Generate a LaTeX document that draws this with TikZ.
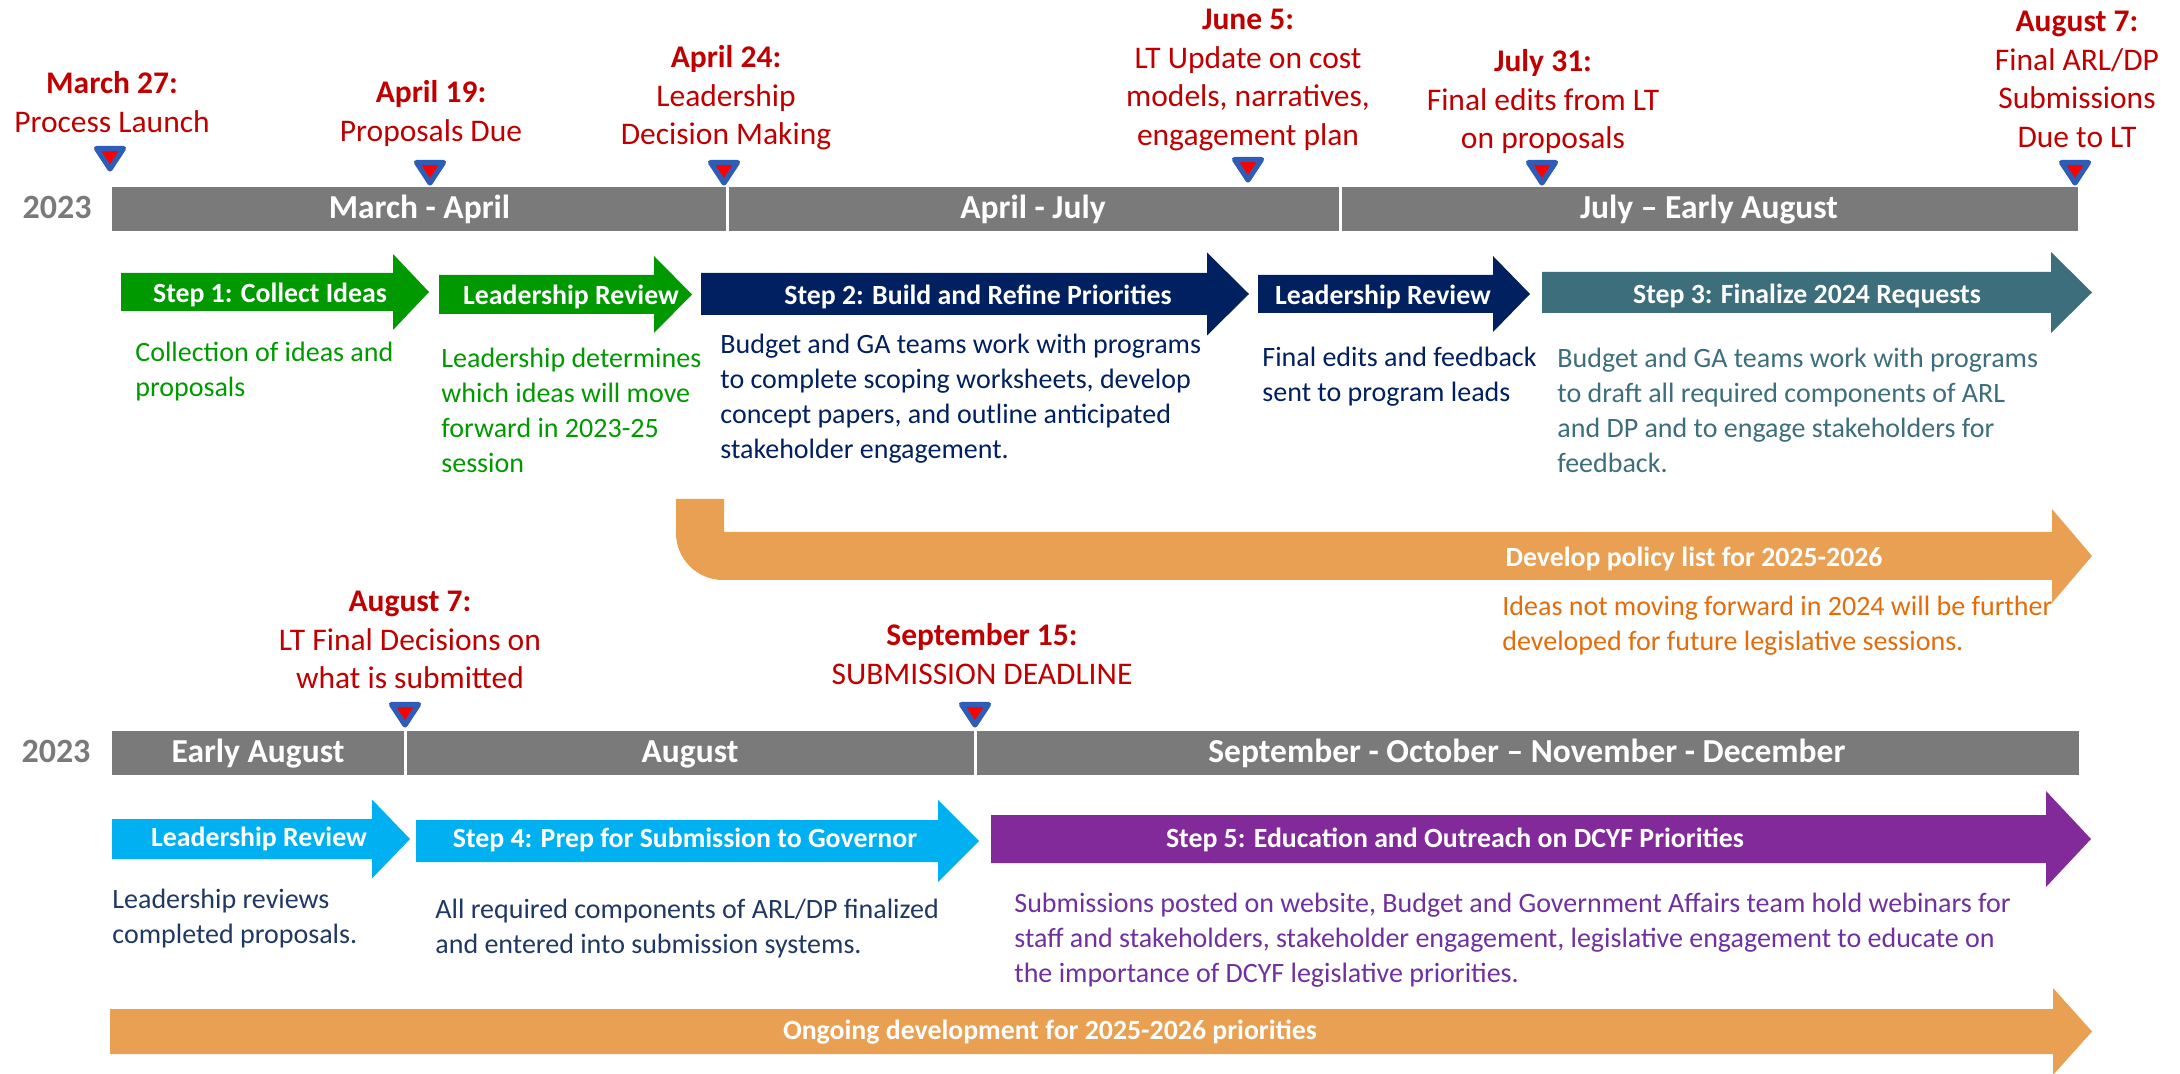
\documentclass[tikz,border=0pt]{standalone}
\usepackage{fontspec}
\setmainfont{Carlito}
\definecolor{cRed}{HTML}{C00000}
\definecolor{cGray}{HTML}{7A7A7A}
\definecolor{cBlue}{HTML}{2E5DB8}
\definecolor{cGreen}{HTML}{009900}
\definecolor{cNavy}{HTML}{002060}
\definecolor{cNavyT}{HTML}{1F3864}
\definecolor{cTeal}{HTML}{3C6E7B}
\definecolor{cOrange}{HTML}{E9A053}
\definecolor{cOrangeT}{HTML}{E46C0A}
\definecolor{cCyan}{HTML}{00B0F0}
\definecolor{cPurple}{HTML}{832A9B}
\definecolor{cPurpleT}{HTML}{7030A0}
\newcommand\zs{\rule[-0.28em]{0pt}{1.12em}}
% block arrow: colour, body start x, head start x, tip x, centre y, body half height, head half height
\newcommand\blockarrow[7]{\fill[#1] (#2,#5-#6) -- (#3,#5-#6) -- (#3,#5-#7) -- (#4,#5) -- (#3,#5+#7) -- (#3,#5+#6) -- (#2,#5+#6) -- cycle;}
% timeline marker: centre x, tip y
\newcommand\tmarker[2]{\filldraw[tmark] (#1-13.5,#2-24.5) -- (#1+13.5,#2-24.5) -- (#1,#2-4) -- cycle;}
\begin{document}
\begin{tikzpicture}[x=0.5pt,y=-0.5pt,
  tmark/.style={draw=cBlue, fill=red, line width=2.6pt, line join=round},
  datelbl/.style={align=center, inner sep=0, text=cRed, font=\fontsize{15.75}{19.25}\selectfont},
  barlbl/.style={inner sep=0, text=white, font=\bfseries\fontsize{16.75}{20}\selectfont},
  yearlbl/.style={inner sep=0, text=cGray, font=\bfseries\fontsize{17}{20}\selectfont},
  steplbl/.style={inner sep=0, text=white, font=\bfseries\fontsize{13.9}{17}\selectfont},
  bodytxt/.style={align=left, anchor=west, inner sep=0, font=\fontsize{14}{17.5}\selectfont},
  barseg/.style={fill=cGray},
  divider/.style={draw=white, line width=1.5pt}]
\useasboundingbox (0,0) rectangle (2180,1074);
\fill[white] (0,0) rectangle (2180,1074);

% ---------------- top timeline bar ----------------
\fill[barseg] (112,187) rectangle (2078,231);
\draw[divider] (727,187) -- (727,231);
\draw[divider] (1340,187) -- (1340,231);
\node[yearlbl] (y1) at (57,209) {\zs 2023};
\node[barlbl] (b11) at (419.5,209) {\zs March - April};
\node[barlbl] (b12) at (1033,209) {\zs April - July};
\node[barlbl] (b13) at (1709,209) {\zs July -- Early August};

% markers top
\tmarker{110}{173}
\tmarker{430}{187}
\tmarker{724}{187}
\tmarker{1248}{184}
\tmarker{1542}{187}
\tmarker{2075}{187}

% date labels top
\node[datelbl] (d1) at (112,104) {\zs\textbf{March 27:}\\\zs Process Launch};
\node[datelbl] (d2) at (431,113) {\zs\textbf{April 19:}\\\zs Proposals Due};
\node[datelbl] (d3) at (726,97.5) {\zs\textbf{April 24:}\\\zs Leadership\\\zs Decision Making};
\node[datelbl] (d4) at (1248,78.5) {\zs\textbf{June 5:}\\\zs LT Update on cost\\\zs models, narratives,\\\zs engagement plan};
\node[datelbl] (d5) at (1543,101.5) {\zs\textbf{July 31:}\\\zs Final edits from LT\\\zs on proposals};
\node[datelbl] (d6) at (2077,80.5) {\zs\textbf{August 7:}\\\zs Final ARL/DP\\\zs Submissions\\\zs Due to LT};

% step arrows top
\blockarrow{cGreen}{121}{393}{429}{292}{19}{38}
\blockarrow{cGreen}{439}{654}{692}{294.5}{19.5}{38.5}
\blockarrow{cNavy}{701}{1207}{1249}{294}{21}{41.5}
\blockarrow{cNavy}{1258}{1493}{1530}{294}{19}{38}
\blockarrow{cTeal}{1542}{2051}{2092}{292.5}{20.5}{40.5}
\node[steplbl] (s1) at (270,295) {\zs Step 1: Collect Ideas};
\node[steplbl] (s2) at (571,297) {\zs Leadership Review};
\node[steplbl] (s3) at (978,297) {\zs Step 2: Build and Refine Priorities};
\node[steplbl] (s4) at (1383,297) {\zs Leadership Review};
\node[steplbl] (s5) at (1807,296) {\zs Step 3: Finalize 2024 Requests};

% descriptions top
\node[bodytxt, text=cGreen] (t1) at (135,371) {\zs Collection of ideas and\\\zs proposals};
\node[bodytxt, text=cGreen] (t2) at (441,412.5) {\zs Leadership determines\\\zs which ideas will move\\\zs forward in 2023-25\\\zs session};
\node[bodytxt, text=cNavy] (t3) at (720,398) {\zs Budget and GA teams work with programs\\\zs to complete scoping worksheets, develop\\\zs concept papers, and outline anticipated\\\zs stakeholder engagement.};
\node[bodytxt, text=cNavy] (t4) at (1262,376) {\zs Final edits and feedback\\\zs sent to program leads};
\node[bodytxt, text=cTeal] (t5) at (1557,412) {\zs Budget and GA teams work with programs\\\zs to draft all required components of ARL\\\zs and DP and to engage stakeholders for\\\zs feedback.};

% bent orange arrow
\fill[cOrange] (676,499) -- (724,499) -- (724,532) -- (2052,532) -- (2052,509) -- (2092,556)
  -- (2052,603) -- (2052,580) -- (723,580) .. controls (697,580) and (676,559) .. (676,533) -- cycle;
\node[steplbl] (p1) at (1694,559) {\zs Develop policy list for 2025-2026};
\node[bodytxt, text=cOrangeT] (p2) at (1502,625) {\zs Ideas not moving forward in 2024 will be further\\\zs developed for future legislative sessions.};

% ---------------- bottom timeline bar ----------------
\fill[barseg] (112,731) rectangle (2079,775);
\draw[divider] (405,731) -- (405,775);
\draw[divider] (975,731) -- (975,775);
\node[yearlbl] (y2) at (56,753) {\zs 2023};
\node[barlbl] (b21) at (258,753) {\zs Early August};
\node[barlbl] (b22) at (690,753) {\zs August};
\node[barlbl] (b23) at (1527,753) {\zs September - October -- November - December};

\tmarker{405}{729}
\tmarker{975}{729}
\node[datelbl] (d7) at (410,641.5) {\zs\textbf{August 7:}\\\zs LT Final Decisions on\\\zs what is submitted};
\node[datelbl] (d8) at (982,656) {\zs\textbf{September 15:}\\\zs SUBMISSION DEADLINE};

\blockarrow{cCyan}{112}{372}{410}{839}{20}{39.5}
\blockarrow{cCyan}{416}{938}{979}{841}{21}{41}
\blockarrow{cPurple}{991}{2046}{2091}{839}{24}{48}
\node[steplbl] (s6) at (259,839) {\zs Leadership Review};
\node[steplbl] (s7) at (685,840) {\zs Step 4: Prep for Submission to Governor};
\node[steplbl] (s8) at (1455,840) {\zs Step 5: Education and Outreach on DCYF Priorities};

\node[bodytxt, text=cNavyT] (t6) at (112,918) {\zs Leadership reviews\\\zs completed proposals.};
\node[bodytxt, text=cNavyT] (t7) at (435,928) {\zs All required components of ARL/DP finalized\\\zs and entered into submission systems.};
\node[bodytxt, text=cPurpleT] (t8) at (1014,940) {\zs Submissions posted on website, Budget and Government Affairs team hold webinars for\\\zs staff and stakeholders, stakeholder engagement, legislative engagement to educate on\\\zs the importance of DCYF legislative priorities.};

\blockarrow{cOrange}{110}{2053}{2092}{1031.5}{22.5}{43.5}
\node[steplbl] (o1) at (1050,1032) {\zs Ongoing development for 2025-2026 priorities};
\end{tikzpicture}
\end{document}
